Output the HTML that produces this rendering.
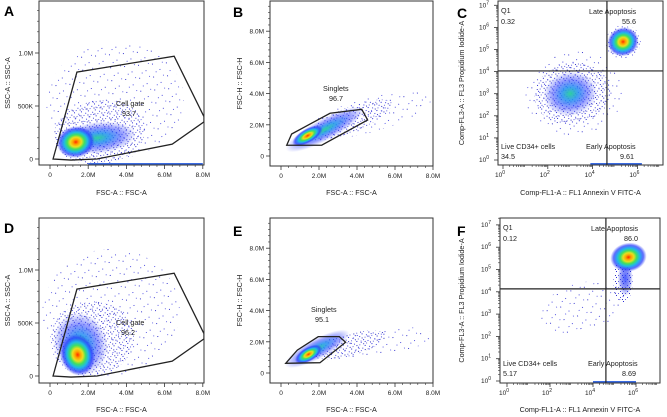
<!DOCTYPE html>
<html><head><meta charset="utf-8"><style>
html,body{margin:0;padding:0;background:#fff;}
svg{display:block;font-family:"Liberation Sans",sans-serif;}
</style></head><body>
<svg id="fig" width="667" height="417" viewBox="0 0 667 417">
<defs>
<pattern id="dotsSparse" width="14" height="13" patternUnits="userSpaceOnUse">
<rect x="1" y="2" width="1" height="1" fill="#3a3ad0"/><rect x="8" y="8" width="1" height="1" fill="#5050e0"/><rect x="11" y="1" width="1" height="1" fill="#7070e8"/><rect x="4" y="10" width="1" height="1" fill="#6060e8"/>
</pattern>
<pattern id="dotsMed" width="7" height="6" patternUnits="userSpaceOnUse">
<rect x="0" y="1" width="1" height="1" fill="#2b2bd8"/><rect x="4" y="3" width="1" height="1" fill="#4a4ae0"/><rect x="6" y="5" width="1" height="1" fill="#3030c0"/><rect x="2" y="5" width="1" height="1" fill="#6c6ce0"/>
</pattern>
<radialGradient id="g1"><stop offset="0" stop-color="#2a40ff" stop-opacity="0.85"/><stop offset="0.6" stop-color="#3040f0" stop-opacity="0.5"/><stop offset="1" stop-color="#3040f0" stop-opacity="0"/></radialGradient>
<radialGradient id="g2"><stop offset="0" stop-color="#30d0a0"/><stop offset="0.3" stop-color="#2090f0" stop-opacity="0.85"/><stop offset="0.65" stop-color="#2a3cff" stop-opacity="0.5"/><stop offset="1" stop-color="#3040f0" stop-opacity="0"/></radialGradient>
<radialGradient id="g3"><stop offset="0" stop-color="#60e040"/><stop offset="0.25" stop-color="#20d0a0"/><stop offset="0.5" stop-color="#20a0f0"/><stop offset="0.78" stop-color="#2a3cff" stop-opacity="0.7"/><stop offset="1" stop-color="#3040f0" stop-opacity="0"/></radialGradient>
<radialGradient id="g5"><stop offset="0" stop-color="#ff2a00"/><stop offset="0.15" stop-color="#ffa000"/><stop offset="0.3" stop-color="#e8e020"/><stop offset="0.45" stop-color="#40e060"/><stop offset="0.62" stop-color="#20b8e8"/><stop offset="0.82" stop-color="#2a3cff" stop-opacity="0.75"/><stop offset="1" stop-color="#3040f0" stop-opacity="0"/></radialGradient>
</defs>
</svg>
<script>
// ---- Data arrays (cluster centres / spreads in data units; linear = millions, log = decades) ----
const linTicks=[0,2,4,6,8];
const linTickLabels=["0","2.0M","4.0M","6.0M","8.0M"];
const sscTicks=[0,0.5,1.0];
const sscTickLabels=["0","500K","1.0M"];
const logTicks=[0,2,4,6];
const logTicksY=[0,1,2,3,4,5,6,7];

const aGateX=[0.16,1.41,6.5,8.06,8.06,6.4,2.46,1.1];
const aGateY=[0,0.82,0.97,0.4,0.35,0.14,0,-0.01];
const aClX=[3.4,2.6,2.5,1.35];
const aClY=[0.55,0.25,0.2,0.16];
const aClRX=[3.6,2.4,2.0,1.0];
const aClRY=[0.55,0.3,0.15,0.15];
const aClLv=[0,-1,2,5];

const dClX=[3.2,2.2,1.6,1.45];
const dClY=[0.6,0.35,0.3,0.2];
const dClRX=[3.6,2.2,1.4,0.9];
const dClRY=[0.6,0.35,0.3,0.2];
const dClLv=[0,-1,2,5];

const bGateX=[0.3,0.56,2.58,4.25,4.56,2.14];
const bGateY=[0.69,1.41,2.74,2.99,2.31,0.69];
const bClX=[4.6,3.6,2.3,1.4];
const bClY=[2.6,2.3,1.7,1.3];
const bClRX=[3.4,2.4,2.3,0.9];
const bClRY=[1.1,0.8,0.7,0.45];
const bClLv=[0,-1,2,5];

const eGateX=[0.25,0.86,1.96,3.07,3.4,2.05];
const eGateY=[0.62,1.47,2.33,2.33,1.97,0.66];
const eClX=[4.8,3.6,1.9,1.45];
const eClY=[1.9,1.8,1.55,1.2];
const eClRX=[3.2,2.0,1.9,0.8];
const eClRY=[0.9,0.7,0.65,0.45];
const eClLv=[0,-1,2,5];

const cClX=[3.2,3.1,3.0,5.36,5.36];
const cClY=[3.0,3.0,3.0,5.34,5.35];
const cClRX=[2.2,1.7,1.2,0.8,0.7];
const cClRY=[1.9,1.4,1.0,0.75,0.65];
const cClLv=[0,-1,2,-1,5];
const cQuadX=4.64, cQuadY=4.03;

const fClX=[3.5,5.4,5.5,5.65];
const fClY=[3.3,4.5,4.6,5.55];
const fClRX=[2.0,0.45,0.35,0.85];
const fClRY=[1.1,1.0,0.8,0.65];
const fClLv=[0,-1,1,5];
const fQuadX=4.6, fQuadY=4.13;

// ---- helpers ----
const NS="http://www.w3.org/2000/svg";
const svg=document.getElementById('fig');
function mk(tag,attrs,parent){const e=document.createElementNS(NS,tag);for(const k in attrs)e.setAttribute(k,attrs[k]);(parent||svg).appendChild(e);return e;}
function txt(s,x,y,size,parent,anchor,weight){const t=mk('text',{x:x,y:y,'font-size':size,fill:'#222','text-anchor':anchor||'start','font-weight':weight||'normal'},parent);t.textContent=s;return t;}
const lvFill={"0":"url(#dotsSparse)","-1":"url(#dotsMed)","1":"url(#g1)","2":"url(#g2)","3":"url(#g3)","5":"url(#g5)"};

function panel(p){
  const g=mk('g',{});
  
  
  const [x0,y0,x1,y1]=p.box;
  const sx=v=>p.xa+(v-p.xd0)*p.xk;
  const sy=v=>p.ya-(v-p.yd0)*p.yk;
  const clipId='clip'+p.name;
  const cp=mk('clipPath',{id:clipId},g);mk('rect',{x:x0,y:y0,width:x1-x0,height:y1-y0},cp);
  const plot=mk('g',{'clip-path':'url(#'+clipId+')'},g);
  
  
  for(let i=0;i<p.cx.length;i++){
    const cx=sx(p.cx[i]),cy=sy(p.cy[i]),rx=p.crx[i]*p.xk,ry=p.cry[i]*p.yk;
    const rot=p.rot?p.rot[i]:0;
    const e=mk('ellipse',{cx:cx,cy:cy,rx:rx,ry:ry,fill:lvFill[String(p.clv[i])],transform:`rotate(${rot} ${cx} ${cy})`},plot);
    
    
  }
  if(p.strip){const s=mk('rect',{x:sx(p.strip[0]),y:y1-2,width:(p.strip[1]-p.strip[0])*p.xk,height:2,fill:'#3a6ae0'},plot);
    }
  if(p.gx){
    const pts=p.gx.map((v,i)=>sx(v)+','+sy(p.gy[i])).join(' ');
    const gp=mk('polygon',{points:pts,fill:'none',stroke:'#222','stroke-width':1.3},plot);
    
    
  }
  if(p.qx!==undefined){
    const l1=mk('line',{x1:sx(p.qx),x2:sx(p.qx),y1:y0,y2:y1,stroke:'#222','stroke-width':1.2},g);
    
    const l2=mk('line',{x1:x0,x2:x1,y1:sy(p.qy),y2:sy(p.qy),stroke:'#222','stroke-width':1.2},g);
    
  }
  const fr=mk('rect',{x:x0,y:y0,width:x1-x0,height:y1-y0,fill:'none',stroke:'#333','stroke-width':1},g);
  
  const xa=mk('g',{},g);
  p.xt.forEach((v,i)=>{
    const X=sx(v);
    mk('line',{x1:X,x2:X,y1:y1,y2:y1+4,stroke:'#333','stroke-width':0.8},xa);
    if(p.log){
      const t=txt('10',X-3,y1+12,6.5,xa,'middle');const s=mk('tspan',{dy:-3,'font-size':5},t);s.textContent=String(v);
    } else txt(p.xl[i],X,y1+12,6.5,xa,'middle');
    if(p.log){
      for(let d=0;d<2;d++)for(let k=2;k<10;k++){const XX=sx(v+d+Math.log10(k));if(XX<x1)mk('line',{x1:XX,x2:XX,y1:y1,y2:y1+2,stroke:'#333','stroke-width':0.6},xa);}
    } else if(i<p.xt.length-1){
      for(let k=1;k<5;k++){const XX=sx(v+(p.xt[i+1]-v)*k/5);mk('line',{x1:XX,x2:XX,y1:y1,y2:y1+2,stroke:'#333','stroke-width':0.6},xa);}
    }
  });
  const ya=mk('g',{},g);
  p.yt.forEach((v,i)=>{
    const Y=sy(v);
    mk('line',{x1:x0-4,x2:x0,y1:Y,y2:Y,stroke:'#333','stroke-width':0.8},ya);
    if(p.log){
      const t=txt('10',x0-9,Y+2,6.5,ya,'end');const s=mk('tspan',{dy:-3,'font-size':5},t);s.textContent=String(v);
      for(let k=2;k<10;k++){const YY=sy(v+Math.log10(k));if(YY>y0)mk('line',{x1:x0-2,x2:x0,y1:YY,y2:YY,stroke:'#333','stroke-width':0.6},ya);}
    } else {
      txt(p.yl[i],x0-6,Y+2.5,6.5,ya,'end');
      const step=p.yt[1]-p.yt[0];
      for(let k=1;k<5;k++){const YY=sy(v+step*k/5);if(YY>y0)mk('line',{x1:x0-2,x2:x0,y1:YY,y2:YY,stroke:'#333','stroke-width':0.6},ya);}
    }
  });
  const xt=txt(p.xtitle,(x0+x1)/2,p.xty,7.2,g,'middle');
  const yt=txt(p.ytitle,0,0,7.2,g,'middle');yt.setAttribute('transform',`translate(${p.ytx},${(y0+y1)/2}) rotate(-90)`);
  
  const L=txt(p.letter,p.lx,p.ly,14,g,'start','bold');L.setAttribute('fill','#000');
  
  p.labels.forEach(lb=>{const t=txt(lb[0],lb[1],lb[2],7.2,g,'start');});
}

panel({name:'panel-a',box:[39,1,204,165],xa:50,xd0:0,xk:19.1,ya:159,yd0:0,yk:106,
  xt:linTicks,xl:linTickLabels,yt:sscTicks,yl:sscTickLabels,gx:aGateX,gy:aGateY,
  cx:aClX,cy:aClY,crx:aClRX,cry:aClRY,clv:aClLv,rot:[-5,-8,-6,-10],strip:[2,8],
  xtitle:'FSC-A :: FSC-A',xty:195,ytitle:'SSC-A :: SSC-A',ytx:10,letter:'A',lx:4,ly:16,
  labels:[['Cell gate',116,106],['93.7',122,116]]});
panel({name:'panel-d',box:[39,218,204,383],xa:50,xd0:0,xk:19.1,ya:376,yd0:0,yk:106,
  xt:linTicks,xl:linTickLabels,yt:sscTicks,yl:sscTickLabels,gx:aGateX,gy:aGateY,
  cx:dClX,cy:dClY,crx:dClRX,cry:dClRY,clv:dClLv,rot:[-5,-10,-15,-15],
  xtitle:'FSC-A :: FSC-A',xty:412,ytitle:'SSC-A :: SSC-A',ytx:10,letter:'D',lx:4,ly:233,
  labels:[['Cell gate',116,325],['96.2',121,335]]});
panel({name:'panel-b',box:[270,1,433,166],xa:281,xd0:0,xk:19,ya:156,yd0:0,yk:15.6,
  xt:linTicks,xl:linTickLabels,yt:linTicks,yl:linTickLabels,gx:bGateX,gy:bGateY,
  cx:bClX,cy:bClY,crx:bClRX,cry:bClRY,clv:bClLv,rot:[-15,-22,-28,-30],
  xtitle:'FSC-A :: FSC-A',xty:195,ytitle:'FSC-H :: FSC-H',ytx:242,letter:'B',lx:233,ly:17,
  labels:[['Singlets',323,91],['96.7',329,101]]});
panel({name:'panel-e',box:[270,218,433,383],xa:281,xd0:0,xk:19,ya:373,yd0:0,yk:15.6,
  xt:linTicks,xl:linTickLabels,yt:linTicks,yl:linTickLabels,gx:eGateX,gy:eGateY,
  cx:eClX,cy:eClY,crx:eClRX,cry:eClRY,clv:eClLv,rot:[-8,-15,-28,-30],
  xtitle:'FSC-A :: FSC-A',xty:412,ytitle:'FSC-H :: FSC-H',ytx:242,letter:'E',lx:233,ly:236,
  labels:[['Singlets',311,312],['95.1',315,322]]});
panel({name:'panel-c',box:[498,1,663,165],log:true,xa:503,xd0:0,xk:22.4,ya:160,yd0:0,yk:22.1,
  xt:logTicks,yt:logTicksY,qx:cQuadX,qy:cQuadY,strip:[3.9,6.2],
  cx:cClX,cy:cClY,crx:cClRX,cry:cClRY,clv:cClLv,rot:[-10,-10,-10,-20,-20],
  xtitle:'Comp-FL1-A :: FL1 Annexin V FITC-A',xty:195,ytitle:'Comp-FL3-A :: FL3 Propidium Iodide-A',ytx:464,letter:'C',lx:457,ly:18,
  labels:[['Q1',501,13],['0.32',501,24],['Late Apoptosis',589,14],['55.6',622,24],['Live CD34+ cells',501,149],['34.5',501,159],['Early Apoptosis',586,149],['9.61',620,159]]});
panel({name:'panel-f',box:[500,218,660,383],log:true,xa:507,xd0:0,xk:21.5,ya:381,yd0:0,yk:22.3,
  xt:logTicks,yt:logTicksY,qx:fQuadX,qy:fQuadY,strip:[4.0,6.0],
  cx:fClX,cy:fClY,crx:fClRX,cry:fClRY,clv:fClLv,rot:[-15,0,0,-10],
  xtitle:'Comp-FL1-A :: FL1 Annexin V FITC-A',xty:412,ytitle:'Comp-FL3-A :: FL3 Propidium Iodide-A',ytx:464,letter:'F',lx:457,ly:236,
  labels:[['Q1',503,230],['0.12',503,241],['Late Apoptosis',591,231],['86.0',624,241],['Live CD34+ cells',503,366],['5.17',503,376],['Early Apoptosis',588,366],['8.69',622,376]]});
</script>
</body></html>
